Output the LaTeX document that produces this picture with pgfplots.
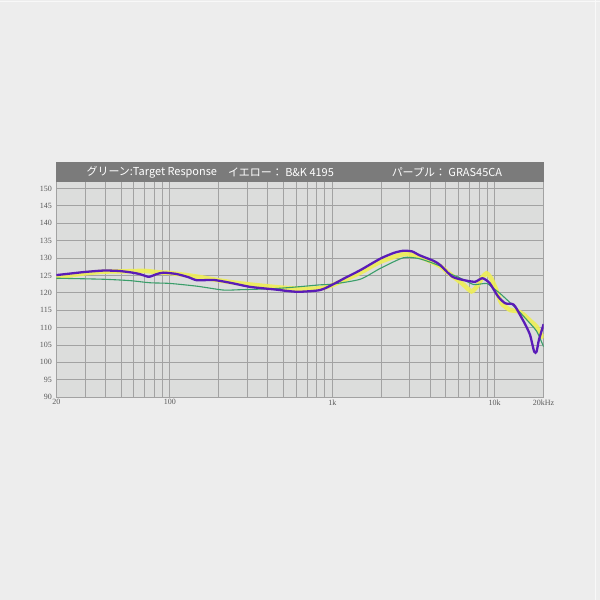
\documentclass[border=0pt]{standalone}
\usepackage{pgfplots}
\pgfplotsset{compat=1.18}
\usepackage{fontspec}
\setmainfont{Liberation Serif}
\newfontfamily\cjk{Noto Sans CJK JP}
\definecolor{pagebg}{HTML}{EDEDED}
\definecolor{plotbg}{HTML}{DCDDDC}
\definecolor{headbg}{HTML}{7B7B7B}
\definecolor{gridc}{HTML}{A2A2A2}
\definecolor{tickc}{HTML}{5A5A5A}
\definecolor{purp}{HTML}{5A1CB8}
\definecolor{yell}{HTML}{EEEE55}
\definecolor{gree}{HTML}{3A9E6A}

\begin{document}
\begin{tikzpicture}[x=1pt,y=1pt]
  % page background and faint frame
  \fill[pagebg] (0,0) rectangle (600,600);
  \draw[white!60!pagebg,line width=1pt] (595.5,0) -- (595.5,600);
  \draw[white!60!pagebg,line width=1pt] (0,598.5) -- (600,598.5);

  \begin{axis}[
    at={(56pt,202.7pt)}, anchor=south west,
    scale only axis, width=488pt, height=215.6pt,
    xmode=log, xmin=20, xmax=20000,
    ymin=90, ymax=151.9,
    axis background/.style={fill=plotbg},
    axis line style={draw=none},
    tick style={draw=none},
    ytick={90,95,...,150},
    xtick={20,100,1000,10000,20000},
    xticklabels={20,100,1k,10k,20kHz},
    minor xtick={30,40,50,60,70,80,90,200,300,400,500,600,700,800,900,
                 2000,3000,4000,5000,6000,7000,8000,9000},
    grid=both,
    major grid style={gridc,line width=0.9pt},
    minor grid style={gridc,line width=0.9pt},
    ticklabel style={font=\fontsize{8}{9}\selectfont,text=tickc},
    yticklabel style={xshift=-1pt},
    xticklabel style={yshift=1pt},
    /pgf/number format/assume math mode=true,
    clip=true,
  ]
    % yellow: B&K 4195
    \addplot[yell,line width=4.5pt,opacity=0.9,smooth,tension=0.4] coordinates {
      (20,124.5) (30,125.6) (40,126.1) (55,126.2) (70,126.3) (85,125.9)
      (100,125.7) (150,124.6) (200,123.6) (272,122.7) (435,121.7) (606,121.2)
      (843,121.3) (1000,122.2) (1485,125.8) (1970,128.9) (2742,131.1)
      (3440,130.4) (4600,127.7) (5100,126.0) (6300,122.7) (7200,120.4)
      (7900,122.3) (8400,124.5) (8900,125.6) (9500,124.2) (10300,120.5)
      (11000,117.0) (12500,115.0) (13700,114.8) (15000,113.8) (16500,112.0)
      (18100,110.3) (19000,108.4) (20000,107.0)
    };
    % green: target response
    \addplot[gree,line width=1.1pt,smooth,tension=0.4] coordinates {
      (20,124.2) (39,123.9) (57,123.5) (75,122.9) (100,122.7) (147,121.9)
      (213,120.8) (272,120.9) (435,121.2) (606,121.7) (843,122.3)
      (1000,122.5) (1485,123.9) (1970,127.0) (2742,130.1) (3440,129.8)
      (4600,127.7) (5130,125.8) (6100,124.3) (7400,122.4) (8900,122.7)
      (9800,121.3) (10800,119.8) (13700,115.3) (16500,111.2) (18200,108.8)
      (20000,104.5)
    };
    % purple: GRAS45CA
    \addplot[purp,line width=2.3pt,smooth,tension=0.4] coordinates {
      (20,125.1) (25,125.6) (30,126.0) (39,126.4) (48,126.3) (57,125.9)
      (65,125.4) (74,124.6) (82,125.3) (91,125.8) (110,125.4) (130,124.5)
      (147,123.6) (186,123.7) (240,122.8) (313,121.7) (435,121.0) (606,120.3)
      (843,120.8) (1035,122.7) (1200,124.3) (1485,126.5) (1970,129.8)
      (2400,131.5) (2742,132.1) (3100,131.9) (3440,130.8) (4200,129.2)
      (4613,128.0) (5500,124.6) (6700,123.5) (7600,123.2) (8400,124.2)
      (9300,122.8) (10500,118.9) (11600,117.0) (12800,116.8) (13400,116.0)
      (15300,111.2) (16500,107.9) (17500,103.1) (18100,103.1) (18700,106.4)
      (19800,110.3) (20000,111.0)
    };
  \end{axis}

  % header band
  \fill[headbg] (56,418.3) rectangle (544,438.3);
  \node[anchor=west,inner sep=0pt,text=white,font=\cjk\fontsize{11}{12}\selectfont]
    at (86,428.3) {グリーン:Target Response};
  \node[anchor=west,inner sep=0pt,text=white,font=\cjk\fontsize{11}{12}\selectfont]
    at (227.7,428.3) {イエロー： B\&K 4195};
  \node[anchor=west,inner sep=0pt,text=white,font=\cjk\fontsize{11}{12}\selectfont]
    at (391.7,428.3) {パープル： GRAS45CA};
\end{tikzpicture}
\end{document}
